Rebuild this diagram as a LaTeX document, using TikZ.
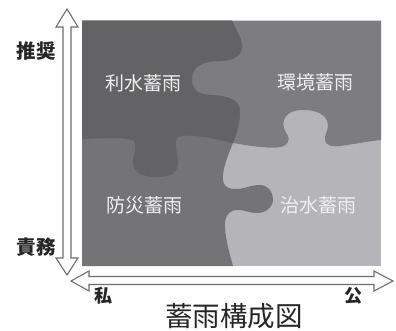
\documentclass[tikz,border=0pt]{standalone}
\usepackage{fontspec}
\newfontfamily\jpfont{Noto Sans CJK JP}
\definecolor{cTL}{RGB}{99,99,101}
\definecolor{cTR}{RGB}{125,125,129}
\definecolor{cBL}{RGB}{116,116,119}
\definecolor{cBR}{RGB}{181,181,185}
\definecolor{cArr}{RGB}{110,110,110}
\begin{document}
\begin{tikzpicture}[x=1pt,y=-1pt,
  lbl/.style={font=\jpfont\fontsize{19}{19}\selectfont, text=white!94!black, inner sep=0pt},
  axl/.style={font=\jpfont\bfseries\fontsize{19.5}{19.5}\selectfont, text=black!85, inner sep=0pt},
  axs/.style={font=\jpfont\bfseries\fontsize{18}{18}\selectfont, text=black!85, inner sep=0pt},
  ttl/.style={font=\jpfont\fontsize{27.5}{27.5}\selectfont, text=black!85, inner sep=0pt},
  arr/.style={draw=cArr, fill=white, line width=1.1pt, line join=miter},
  bndA/.style={insert path={.. controls (236,30) and (243,40) .. (242,48)
     .. controls (241,56) and (232,61) .. (220,61)
     .. controls (202,61) and (192,67) .. (192,79)
     .. controls (192,91) and (200,95) .. (212,95)
     .. controls (228,96) and (240,99) .. (240,112)
     .. controls (240,125) and (236,135) .. (233,143)}},
  bndB/.style={insert path={.. controls (105,138) and (128,137) .. (134,141)
     .. controls (137,146) and (133,155) .. (133,163)
     .. controls (133,172) and (142,177) .. (157,177)
     .. controls (172,177) and (179,172) .. (178,160)
     .. controls (177,150) and (173,142) .. (178,137)
     .. controls (190,133) and (215,139) .. (233,143)}},
  bndD/.style={insert path={.. controls (250,146) and (270,149) .. (281,147)
     .. controls (288,145) and (290,140) .. (288,136)
     .. controls (285,131) and (282,126) .. (284,120)
     .. controls (287,112) and (295,110) .. (304,110)
     .. controls (315,110) and (328,114) .. (328,126)
     .. controls (328,131) and (324,135) .. (325,140)
     .. controls (326,146) and (332,147) .. (340,146)
     .. controls (355,144) and (370,141) .. (381,140)}},
  bndE/.style={insert path={.. controls (228,155) and (222,170) .. (223,180)
     .. controls (224,187) and (228,189) .. (236,189)
     .. controls (245,189) and (250,185) .. (260,185)
     .. controls (268,185) and (273,192) .. (273,199)
     .. controls (273,208) and (265,213) .. (257,213)
     .. controls (248,213) and (243,209) .. (236,210)
     .. controls (228,211) and (224,218) .. (225,228)
     .. controls (226,242) and (230,255) .. (233,266)}},
]
\useasboundingbox (0,0) rectangle (396,330);
% puzzle
\fill[cBR] (82,20.5) rectangle (381,266);
\fill[cTR] (82,20.5) -- (82,139) [bndB] [bndD] -- (381,20.5) -- cycle;
\fill[cBL] (82,20.5) -- (232,20.5) [bndA] [bndE] -- (82,266) -- cycle;
\begin{scope}
  \clip (82,20.5) -- (232,20.5) [bndA] [bndE] -- (82,266) -- cycle;
  \fill[cTL] (82,20.5) -- (82,139) [bndB] [bndD] -- (381,20.5) -- cycle;
\end{scope}
% axis arrows
\draw[arr] (67,9) -- (78,27) -- (71,27) -- (71,258) -- (78,258) -- (67,275)
  -- (56,258) -- (63,258) -- (63,27) -- (56,27) -- cycle;
\draw[arr] (71,281) -- (89,271) -- (89,276.5) -- (374,276.5) -- (374,271)
  -- (393,281) -- (374,291) -- (374,284.5) -- (89,284.5) -- (89,291) -- cycle;
% labels
\node[lbl] (riyo) at (143,83) {利水蓄雨};
\node[lbl] (kankyo) at (315,82) {環境蓄雨};
\node[lbl] (bosai) at (144,205) {防災蓄雨};
\node[lbl] (chisui) at (318,205) {治水蓄雨};
\node[axl] (suisho) at (36,51.5) {推奨};
\node[axl] (sekimu) at (36,247) {責務};
\node[axs] (watakushi) at (103,296) {私};
\node[axs] (oyake) at (353,296) {公};
\node[ttl] (title) at (234,316) {蓄雨構成図};
\end{tikzpicture}
\end{document}
